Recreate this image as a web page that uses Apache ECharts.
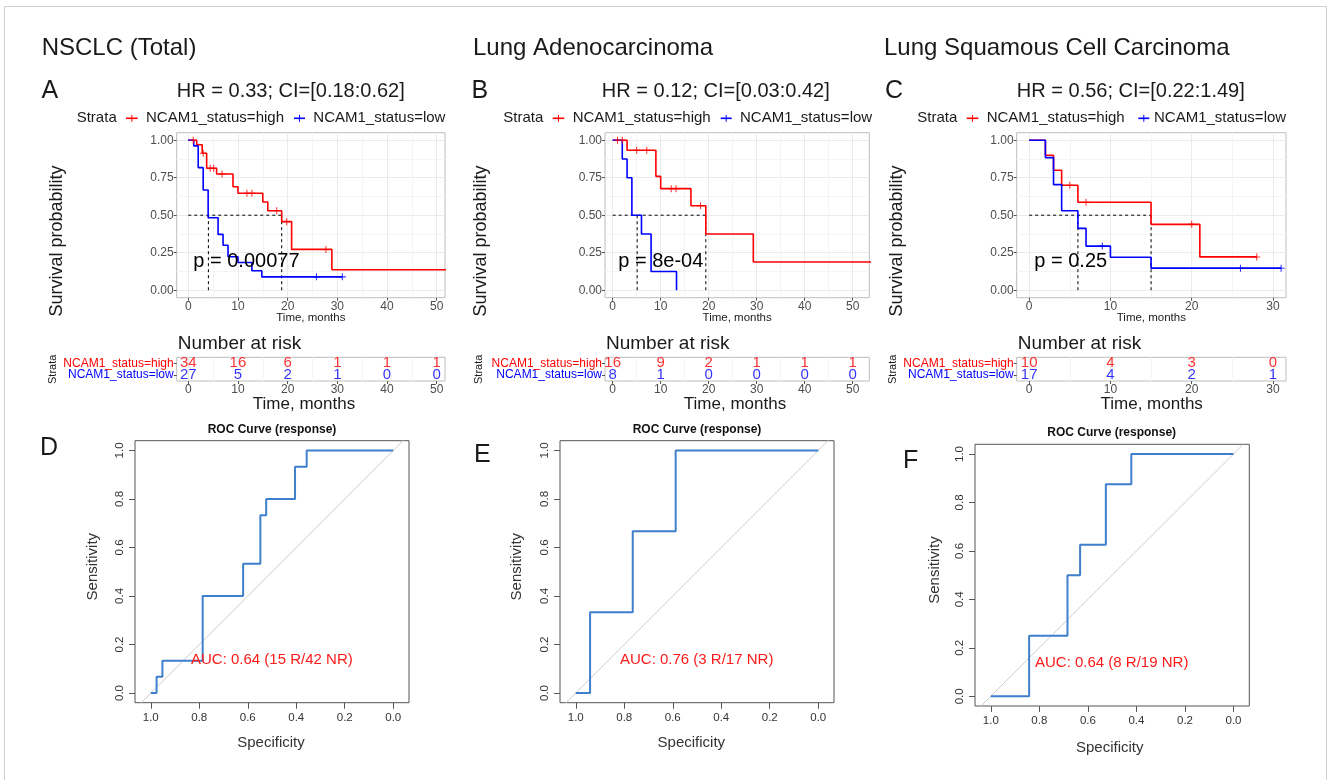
<!DOCTYPE html>
<html>
<head>
<meta charset="utf-8">
<title>NCAM1 survival / ROC</title>
<script src="https://cdn.jsdelivr.net/npm/echarts@6/dist/echarts.min.js"></script>
<style>
html, body { margin: 0; padding: 0; background: #fff; }
#main { width: 1328px; height: 780px; }
</style>
</head>
<body>
<div id="main"></div>
<script>
// ---------- data ----------
// Kaplan-Meier steps (months, survival probability)
var kmA_highT = [0, 1.7, 2.8, 3.7, 5.7, 9, 10, 15, 16, 18.8, 20.8, 28.9];
var kmA_highS = [1, 0.97, 0.913, 0.813, 0.775, 0.69, 0.646, 0.588, 0.53, 0.457, 0.272, 0.136];
var kmA_highCens = [1, 3, 4.4, 5.1, 6.8, 11.8, 12.8, 17.8, 19.8, 27.7];
var kmA_lowT = [0, 1.1, 2, 3, 4, 6, 7, 8, 10, 12.8, 14.8];
var kmA_lowS = [1, 0.962, 0.817, 0.668, 0.483, 0.372, 0.3, 0.223, 0.185, 0.13, 0.089];
var kmA_lowCens = [25.8, 31];
var kmA_last = [52, 31];
var kmA_median = [4.05, 18.8];

var kmB_highT = [0, 3, 9, 10, 16.3, 19.4, 29.3];
var kmB_highS = [1, 0.933, 0.759, 0.677, 0.563, 0.375, 0.188];
var kmB_highCens = [1, 2, 5, 7.1, 12.2, 13.2, 18.3];
var kmB_lowT = [0, 2, 3, 4, 6, 8, 13.3];
var kmB_lowS = [1, 0.875, 0.75, 0.5, 0.375, 0.125, 0];
var kmB_lowCens = [];
var kmB_last = [54, 13.3];
var kmB_median = [5.1, 19.4];

var kmC_highT = [0, 2, 3, 4, 6, 15, 21];
var kmC_highS = [1, 0.9, 0.8, 0.7, 0.586, 0.439, 0.222];
var kmC_highCens = [5, 7, 20, 28];
var kmC_lowT = [0, 2, 3, 4, 6, 7, 10, 15];
var kmC_lowS = [1, 0.884, 0.704, 0.53, 0.412, 0.294, 0.22, 0.147];
var kmC_lowCens = [9, 26, 31];
var kmC_last = [28, 31];
var kmC_median = [6, 15];

// numbers at risk
var riskTimes50 = [0, 10, 20, 30, 40, 50];
var riskTimes30 = [0, 10, 20, 30];
var riskA_high = [34, 16, 6, 1, 1, 1];
var riskA_low = [27, 5, 2, 1, 0, 0];
var riskB_high = [16, 9, 2, 1, 1, 1];
var riskB_low = [8, 1, 0, 0, 0, 0];
var riskC_high = [10, 4, 3, 0];
var riskC_low = [17, 4, 2, 1];

// ROC points (specificity, sensitivity)
var rocD_spec = [1, 0.976, 0.952, 0.786, 0.619, 0.548, 0.524, 0.405, 0.357, 0];
var rocD_sens = [0, 0.067, 0.133, 0.4, 0.533, 0.733, 0.8, 0.933, 1, 1];
var rocE_spec = [1, 0.941, 0.765, 0.588, 0];
var rocE_sens = [0, 0.333, 0.667, 1, 1];
var rocF_spec = [1, 0.842, 0.684, 0.632, 0.526, 0.421, 0];
var rocF_sens = [0, 0.25, 0.5, 0.625, 0.875, 1, 1];
var diagSpec = [1.2, -0.2];
var diagSens = [-0.2, 1.2];

// tick labels
var timeTicks50 = [0, 10, 20, 30, 40, 50];
var timeMinor50 = [5, 15, 25, 35, 45];
var timeTicks30 = [0, 10, 20, 30];
var timeMinor30 = [5, 15, 25];
var survTicks = [0, 0.25, 0.5, 0.75, 1];
var survMinor = [0.125, 0.375, 0.625, 0.875];
var rocTicks = [0, 0.2, 0.4, 0.6, 0.8, 1];
var strata = ['NCAM1_status=low', 'NCAM1_status=high'];

// ---------- helpers ----------
var FONT = '"Liberation Sans", Arial, Helvetica, sans-serif';
var RED = '#ff0000', BLUE = '#0000ff';
var CROSS = 'path://M0,8.5L20,8.5L20,11.5L0,11.5Z M8.5,0L11.5,0L11.5,20L8.5,20Z';

var grids = [], xAxes = [], yAxes = [], series = [], graphics = [];

function survAt(times, surv, t) {
  var s = surv[0];
  for (var i = 0; i < times.length; i++) if (times[i] <= t) s = surv[i];
  return s;
}
function pairs(a, b) {
  return a.map(function (v, i) { return [v, b[i]]; });
}

function addAxisPair(list, gi, min, max, major, minor, pos, fmt, lblSize) {
  var i = list.length;
  list.push({
    type: 'value', gridIndex: gi, min: min, max: max, position: pos,
    axisLine: { show: false, onZero: false },
    axisTick: { show: true, length: 3, lineStyle: { color: '#555' }, customValues: major },
    axisLabel: { customValues: major, color: '#4d4d4d', fontSize: lblSize, margin: 3, fontFamily: FONT, formatter: fmt },
    splitLine: { show: true, lineStyle: { color: '#ebebeb', width: 1 } }
  });
  if (minor) {
    list.push({
      type: 'value', gridIndex: gi, min: min, max: max, position: pos === 'bottom' ? 'top' : 'right',
      axisLine: { show: false, onZero: false },
      axisTick: { show: false, customValues: minor },
      axisLabel: { show: false, customValues: minor },
      splitLine: { show: true, lineStyle: { color: '#f4f4f4', width: 1 } }
    });
  }
  return i;
}

function kmPanel(p) {
  var gi = grids.length;
  grids.push({ left: p.left, top: 132.7, width: p.width, height: 165, show: true,
    borderColor: '#bdbdbd', borderWidth: 1, backgroundColor: '#fff' });
  var xi = addAxisPair(xAxes, gi, p.xmin, p.xmax, p.ticks, p.minor, 'bottom', null, 12);
  var yi = addAxisPair(yAxes, gi, -0.05, 1.05, survTicks, survMinor, 'left',
    function (v) { return v.toFixed(2); }, 12);
  p.curves.forEach(function (c) {
    var d = pairs(c.t, c.s);
    if (c.last > c.t[c.t.length - 1]) d.push([c.last, c.s[c.s.length - 1]]);
    series.push({ type: 'line', xAxisIndex: xi, yAxisIndex: yi, step: 'end', data: d,
      symbol: 'none', lineStyle: { color: c.color, width: 1.6 }, z: 4, silent: true });
    series.push({ type: 'scatter', xAxisIndex: xi, yAxisIndex: yi, symbol: CROSS, symbolSize: 7,
      data: c.cens.map(function (t) { return [t, survAt(c.t, c.s, t)]; }),
      itemStyle: { color: c.color }, z: 5, silent: true });
  });
  var dash = { color: '#000', width: 1, type: [3, 3] };
  var mMax = Math.max.apply(null, p.median);
  series.push({ type: 'line', xAxisIndex: xi, yAxisIndex: yi, data: [[0, 0.5], [mMax, 0.5]],
    symbol: 'none', lineStyle: dash, z: 3, silent: true });
  p.median.forEach(function (m) {
    series.push({ type: 'line', xAxisIndex: xi, yAxisIndex: yi, data: [[m, 0.5], [m, 0]],
      symbol: 'none', lineStyle: dash, z: 3, silent: true });
  });
}

function riskPanel(p) {
  var gi = grids.length;
  grids.push({ left: p.left, top: 357.3, width: p.width, height: 23.7, show: true,
    borderColor: '#bdbdbd', borderWidth: 1, backgroundColor: '#fff' });
  var xi = addAxisPair(xAxes, gi, p.xmin, p.xmax, p.ticks, p.minor, 'bottom', null, 12);
  var yi = yAxes.length;
  yAxes.push({
    type: 'category', gridIndex: gi, data: strata,
    axisLine: { show: false, onZero: false },
    axisTick: { show: true, length: 3, alignWithLabel: true, interval: 0, lineStyle: { color: '#555' } },
    axisLabel: { fontSize: 12, margin: 3, fontFamily: FONT, interval: 0,
      color: function (v) { return v.indexOf('high') >= 0 ? RED : BLUE; } },
    splitLine: { show: false }
  });
  [[p.low, 0, BLUE], [p.high, 1, RED]].forEach(function (r) {
    series.push({ type: 'scatter', xAxisIndex: xi, yAxisIndex: yi, symbolSize: 1,
      itemStyle: { color: 'rgba(0,0,0,0)' },
      data: p.times.map(function (t, i) { return [t, r[1], r[0][i]]; }),
      label: { show: true, position: 'inside', color: r[2], fontSize: 15, fontFamily: FONT,
        formatter: function (q) { return String(q.value[2]); } },
      z: 5, silent: true });
  });
}

function rocPanel(p) {
  var gi = grids.length;
  grids.push({ left: p.left, top: p.top, width: p.width, height: p.height, show: true,
    borderColor: '#555', borderWidth: 1, backgroundColor: '#fff' });
  var fmt = function (v) { return v.toFixed(1); };
  var xi = xAxes.length;
  xAxes.push({ type: 'value', gridIndex: gi, inverse: true, min: -0.065, max: 1.065,
    axisLine: { show: false, onZero: false },
    axisTick: { show: true, length: 6, customValues: rocTicks, lineStyle: { color: '#555' } },
    axisLabel: { customValues: rocTicks, formatter: fmt, color: '#333', fontSize: 11.5, margin: 9, fontFamily: FONT },
    splitLine: { show: false } });
  var yi = yAxes.length;
  yAxes.push({ type: 'value', gridIndex: gi, min: -0.04, max: 1.04,
    axisLine: { show: false, onZero: false },
    axisTick: { show: true, length: 6, customValues: rocTicks, lineStyle: { color: '#555' } },
    axisLabel: { customValues: rocTicks, formatter: fmt, color: '#333', fontSize: 11.5, margin: 9,
      rotate: 90, fontFamily: FONT },
    splitLine: { show: false } });
  series.push({ type: 'line', xAxisIndex: xi, yAxisIndex: yi, data: pairs(diagSpec, diagSens),
    symbol: 'none', lineStyle: { color: '#cccccc', width: 1 }, clip: true, z: 2, silent: true });
  series.push({ type: 'line', xAxisIndex: xi, yAxisIndex: yi, step: 'end', data: pairs(p.spec, p.sens),
    symbol: 'none', lineStyle: { color: '#3f7fcb', width: 2 }, z: 4, silent: true });
}

function txt(s, x, y, size, opt) {
  opt = opt || {};
  graphics.push({
    type: 'text', x: x, y: y, rotation: opt.rot || 0, silent: true, z: 10,
    style: { text: s, x: 0, y: 0, fill: opt.color || '#1a1a1a',
      font: (opt.weight || 'normal') + ' ' + size + 'px ' + FONT,
      textAlign: opt.align || 'left', textVerticalAlign: 'middle' }
  });
}
function legendKey(x1, x2, y, color) {
  graphics.push({ type: 'line', silent: true, z: 10,
    shape: { x1: x1, y1: y, x2: x2, y2: y }, style: { stroke: color, lineWidth: 1.6 } });
  var xm = (x1 + x2) / 2;
  graphics.push({ type: 'line', silent: true, z: 10,
    shape: { x1: xm, y1: y - 3.5, x2: xm, y2: y + 3.5 }, style: { stroke: color, lineWidth: 1 } });
}

// ---------- panels ----------
var kmLayout = [
  { left: 176.7, width: 268.3, xmin: -2.33, xmax: 51.67, ticks: timeTicks50, minor: timeMinor50 },
  { left: 605, width: 264.3, xmin: -1.6, xmax: 53.46, ticks: timeTicks50, minor: timeMinor50 },
  { left: 1016.7, width: 269.3, xmin: -1.53, xmax: 31.6, ticks: timeTicks30, minor: timeMinor30 }
];
var kmCurves = [
  { median: kmA_median, curves: [
    { t: kmA_highT, s: kmA_highS, cens: kmA_highCens, last: kmA_last[0], color: RED },
    { t: kmA_lowT, s: kmA_lowS, cens: kmA_lowCens, last: kmA_last[1], color: BLUE }] },
  { median: kmB_median, curves: [
    { t: kmB_highT, s: kmB_highS, cens: kmB_highCens, last: kmB_last[0], color: RED },
    { t: kmB_lowT, s: kmB_lowS, cens: kmB_lowCens, last: kmB_last[1], color: BLUE }] },
  { median: kmC_median, curves: [
    { t: kmC_highT, s: kmC_highS, cens: kmC_highCens, last: kmC_last[0], color: RED },
    { t: kmC_lowT, s: kmC_lowS, cens: kmC_lowCens, last: kmC_last[1], color: BLUE }] }
];
var riskData = [
  { times: riskTimes50, high: riskA_high, low: riskA_low },
  { times: riskTimes50, high: riskB_high, low: riskB_low },
  { times: riskTimes30, high: riskC_high, low: riskC_low }
];
kmLayout.forEach(function (L, i) {
  kmPanel(Object.assign({}, L, kmCurves[i]));
  riskPanel(Object.assign({}, L, riskData[i]));
});

rocPanel({ left: 135, top: 440.7, width: 274, height: 262, spec: rocD_spec, sens: rocD_sens });
rocPanel({ left: 560, top: 440.7, width: 274, height: 262, spec: rocE_spec, sens: rocE_sens });
rocPanel({ left: 975, top: 444.3, width: 274.3, height: 261.7, spec: rocF_spec, sens: rocF_sens });

// ---------- text ----------
graphics.push({ type: 'rect', silent: true, z: 0,
  shape: { x: 4.5, y: 6.5, width: 1322, height: 800 },
  style: { fill: 'none', stroke: '#d0d0d0', lineWidth: 1 } });

txt('NSCLC (Total)', 41.7, 48, 24);
txt('Lung Adenocarcinoma', 473, 48, 24);
txt('Lung Squamous Cell Carcinoma', 884, 48, 24);
txt('A', 41.5, 91, 25); txt('B', 471.5, 91, 25); txt('C', 885, 91, 25);
txt('D', 40, 448, 25); txt('E', 474, 455, 25); txt('F', 903, 461, 25);

var hrTitles = ['HR = 0.33; CI=[0.18:0.62]', 'HR = 0.12; CI=[0.03:0.42]', 'HR = 0.56; CI=[0.22:1.49]'];
var hrX = [290.8, 715.8, 1130.8];
var pTexts = ['p = 0.00077', 'p = 8e-04', 'p = 0.25'];
var pX = [193.3, 618.3, 1034.3];
var legX = [
  [76.7, 126, 137.7, 146, 294, 305, 313.3],
  [503.3, 552.7, 564.3, 572.7, 720.7, 731.7, 740],
  [917.3, 966.7, 978.3, 986.7, 1138.3, 1149.3, 1154]
];
var ylabX = [57, 481, 897];
var strataX = [53.3, 479, 893];
var riskTitleX = [304, 735, 1151.7];
for (var k = 0; k < 3; k++) {
  var L = kmLayout[k], lx = legX[k];
  txt(hrTitles[k], hrX[k], 91.7, 20, { align: 'center' });
  txt('Strata', lx[0], 118.3, 15);
  legendKey(lx[1], lx[2], 118.3, RED);
  txt('NCAM1_status=high', lx[3], 118.3, 15);
  legendKey(lx[4], lx[5], 118.3, BLUE);
  txt('NCAM1_status=low', lx[6], 118.3, 15);
  txt('Survival probability', ylabX[k], 241, 18, { rot: Math.PI / 2, align: 'center' });
  txt(pTexts[k], pX[k], 261.7, 20, { color: '#000' });
  txt('Time, months', L.left + L.width / 2, 318, 11.5, { align: 'center' });
  txt('Number at risk', L.left + 1, 343.3, 19);
  txt('Strata', strataX[k], 369.3, 11, { rot: Math.PI / 2, align: 'center' });
  txt('Time, months', riskTitleX[k], 404, 17, { align: 'center' });
}

var rocTitle = [[272, 429.3], [697, 429.3], [1111.7, 432.7]];
var sensPos = [[93.3, 566.7], [516.7, 566.7], [935, 570]];
var specPos = [[271, 743.3], [691.3, 743.3], [1109.7, 748.3]];
var aucText = ['AUC: 0.64 (15 R/42 NR)', 'AUC: 0.76 (3 R/17 NR)', 'AUC: 0.64 (8 R/19 NR)'];
var aucPos = [[191, 660], [620, 660], [1035, 663.3]];
for (var r = 0; r < 3; r++) {
  txt('ROC Curve (response)', rocTitle[r][0], rocTitle[r][1], 12, { weight: 'bold', align: 'center', color: '#111' });
  txt('Sensitivity', sensPos[r][0], sensPos[r][1], 15, { rot: Math.PI / 2, align: 'center', color: '#333' });
  txt('Specificity', specPos[r][0], specPos[r][1], 15, { align: 'center', color: '#333' });
  txt(aucText[r], aucPos[r][0], aucPos[r][1], 15, { color: '#ff1a1a' });
}

var chart = echarts.init(document.getElementById('main'));
chart.setOption({
  animation: false,
  backgroundColor: '#fff',
  grid: grids,
  xAxis: xAxes,
  yAxis: yAxes,
  series: series,
  graphic: { elements: graphics }
});
</script>
</body>
</html>
